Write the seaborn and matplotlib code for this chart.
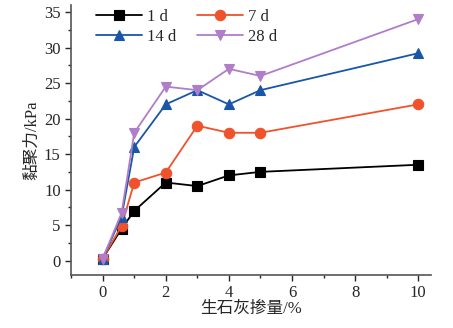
import matplotlib
matplotlib.use("Agg")
import matplotlib.pyplot as plt
import seaborn as sns
import pandas as pd
from matplotlib.ticker import MultipleLocator

lime = [0, 0.6, 1, 2, 3, 4, 5, 10]
d1 = [0.3, 4.5, 7.0, 11.0, 10.5, 12.0, 12.5, 13.5]
d7 = [0.3, 4.9, 11.0, 12.4, 19.0, 18.0, 18.0, 22.0]
d14 = [0.3, 6.2, 16.0, 22.0, 24.0, 22.0, 24.0, 29.2]
d28 = [0.3, 6.7, 18.0, 24.5, 24.0, 27.0, 26.0, 34.0]
labels = ["1 d", "7 d", "14 d", "28 d"]

sns.set_style("ticks")
plt.rcParams['font.family'] = ['Liberation Serif', 'Noto Sans CJK SC']

rows = []
for lab, vals in zip(labels, [d1, d7, d14, d28]):
    for x, v in zip(lime, vals):
        rows.append({"x": x, "y": v, "age": lab})
df = pd.DataFrame(rows)

colors = ["#000000", "#f0522c", "#1a56a8", "#b07dc8"]
markers = ["s", "o", "^", "v"]

fig = plt.figure(figsize=(4.53, 3.28), dpi=100)
ax = fig.add_axes([0.157, 0.162, 0.794, 0.823])
sns.lineplot(data=df, x="x", y="y", hue="age", style="age", palette=colors,
             markers=markers, dashes=False, markersize=7.5, linewidth=1.3,
             markeredgewidth=0.8, ax=ax)
for line in ax.lines:
    line.set_markeredgecolor(line.get_color())

ax.set_xlim(-1, 10.4)
ax.set_ylim(-2, 36)
ax.xaxis.set_major_locator(MultipleLocator(2))
ax.xaxis.set_minor_locator(MultipleLocator(1))
ax.yaxis.set_major_locator(MultipleLocator(5))
ax.yaxis.set_minor_locator(MultipleLocator(2.5))
ax.tick_params(which='major', direction='out', length=4, width=1, labelsize=12)
ax.tick_params(which='minor', direction='out', length=2.5, width=1)
for s in ['left', 'bottom']:
    ax.spines[s].set_linewidth(1.2)
    ax.spines[s].set_color('#555555')
ax.spines['top'].set_visible(False)
ax.spines['right'].set_visible(False)
ax.set_xlabel("生石灰掺量/%", fontsize=12, labelpad=0)
ax.set_ylabel("黏聚力/kPa", fontsize=12, labelpad=3)

handles, labs = ax.get_legend_handles_labels()
order = [0, 2, 1, 3]
leg = ax.legend([handles[i] for i in order], [labs[i] for i in order],
                ncol=2, loc='upper left', frameon=False,
                fontsize=12, handlelength=2.8, columnspacing=1.2,
                handletextpad=0.3, borderaxespad=0.0, labelspacing=0.25,
                bbox_to_anchor=(0.05, 1.01))

fig.savefig("out.png", dpi=100)
